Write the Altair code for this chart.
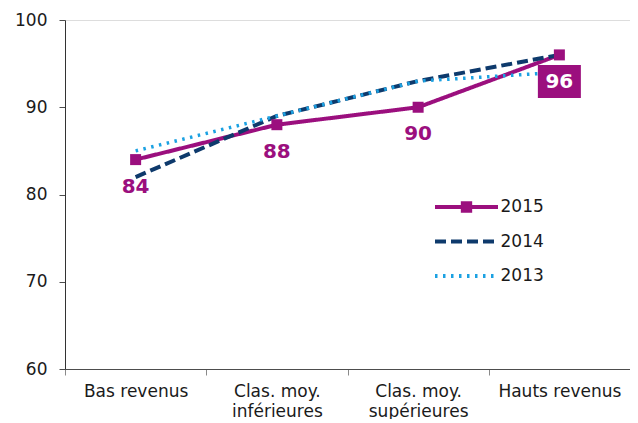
import altair as alt
import pandas as pd

categories = ["Bas revenus", "Clas. moy.|inférieures", "Clas. moy.|supérieures", "Hauts revenus"]
years = ["2015", "2014", "2013"]
v2015 = [84, 88, 90, 96]
v2014 = [82, 89, 93, 96]
v2013 = [85, 89, 93, 94]
y_ticks = [60, 70, 80, 90, 100]

PURPLE = "#9b0f7e"
colors = [PURPLE, "#0e3a6c", "#1ba1e2"]
dashes = [[1, 0], [11, 5], [2.5, 5.5]]
widths = [4, 4, 3.5]
legend_shapes = ["M-3,0H3M-0.35,-0.35H0.35V0.35H-0.35Z", "M-3,0H3", "M-3,0H3"]
FONT = "DejaVu Sans"

rows = []
for yr, vals in zip(years, [v2015, v2014, v2013]):
    for c, v in zip(categories, vals):
        rows.append({"cat": c, "year": yr, "value": v})
df = pd.DataFrame(rows)

x_enc = alt.X(
    "cat:N", sort=categories,
    scale=alt.Scale(type="band", domain=categories, paddingInner=0, paddingOuter=0),
    axis=alt.Axis(title=None, labelAngle=0, tickBand="extent", labelExpr="split(datum.label, '|')",
                  labelLineHeight=20, labelFontSize=17, labelFont=FONT, labelColor="#1a1a1a",
                  labelPadding=8, tickSize=6, tickColor="#8a8a8a", domainColor="#4d4d4d",
                  grid=False),
)
y_enc = alt.Y(
    "value:Q", scale=alt.Scale(domain=[60, 100], nice=False, zero=False),
    axis=alt.Axis(title=None, values=y_ticks, labelFontSize=17, labelFont=FONT, labelColor="#1a1a1a",
                  labelPadding=12, tickSize=6, tickColor="#4d4d4d", domainColor="#333333", grid=False),
)

color_scale = alt.Scale(domain=years, range=colors)
dash_scale = alt.Scale(domain=years, range=dashes)

leg = alt.Legend(title=None, orient="none", legendX=389, legendY=174.5, symbolSize=441,
                 symbolStrokeWidth=4, symbolOpacity=1, labelFontSize=17, labelFont=FONT,
                 labelColor="#1a1a1a", labelOffset=21.5, rowPadding=9.5, padding=0,
                 gridAlign="all")

base = alt.Chart(df)

line_layers = []
for yr, col, dash, w in zip(years, colors, dashes, widths):
    line_layers.append(
        base.transform_filter(alt.datum.year == yr)
        .mark_line(color=col, strokeDash=dash, strokeWidth=w)
        .encode(x=x_enc, y=y_enc)
    )

legend_layer = base.mark_point(filled=True, opacity=1).encode(
    x=x_enc, y=y_enc,
    fill=alt.Fill("year:N", scale=color_scale, legend=leg),
    stroke=alt.Stroke("year:N", scale=color_scale, legend=leg),
    strokeDash=alt.StrokeDash("year:N", scale=dash_scale, legend=leg),
    shape=alt.Shape("year:N", scale=alt.Scale(domain=years, range=legend_shapes), legend=leg),
).transform_filter("datum.value < 0")

d15 = base.transform_filter("datum.year == '2015'")

squares = d15.mark_square(size=121, filled=True, opacity=1, color=PURPLE).encode(x=x_enc, y=y_enc)

box = d15.transform_filter("datum.cat == 'Hauts revenus'").mark_point(
    shape="M-1.303,-1H1.303V1H-1.303Z", filled=True, size=1089, opacity=1, color=PURPLE, yOffset=26.5
).encode(x=x_enc, y=y_enc)

labels = d15.mark_text(fontSize=20, fontWeight="bold", font=FONT, dy=27, baseline="middle").encode(
    x=x_enc, y=y_enc, text=alt.Text("value:Q"),
    color=alt.condition("datum.cat == 'Hauts revenus'", alt.value("white"), alt.value(PURPLE)),
)

chart = alt.layer(*line_layers, legend_layer, squares, box, labels).properties(
    width=565, height=349,
    autosize=alt.AutoSizeParams(type="none"),
    padding={"left": 57, "top": 12, "right": 0, "bottom": 50},
).configure_view(stroke=None).configure(background="white")

chart.save("out.html", embed_options={"renderer": "svg", "actions": False})
